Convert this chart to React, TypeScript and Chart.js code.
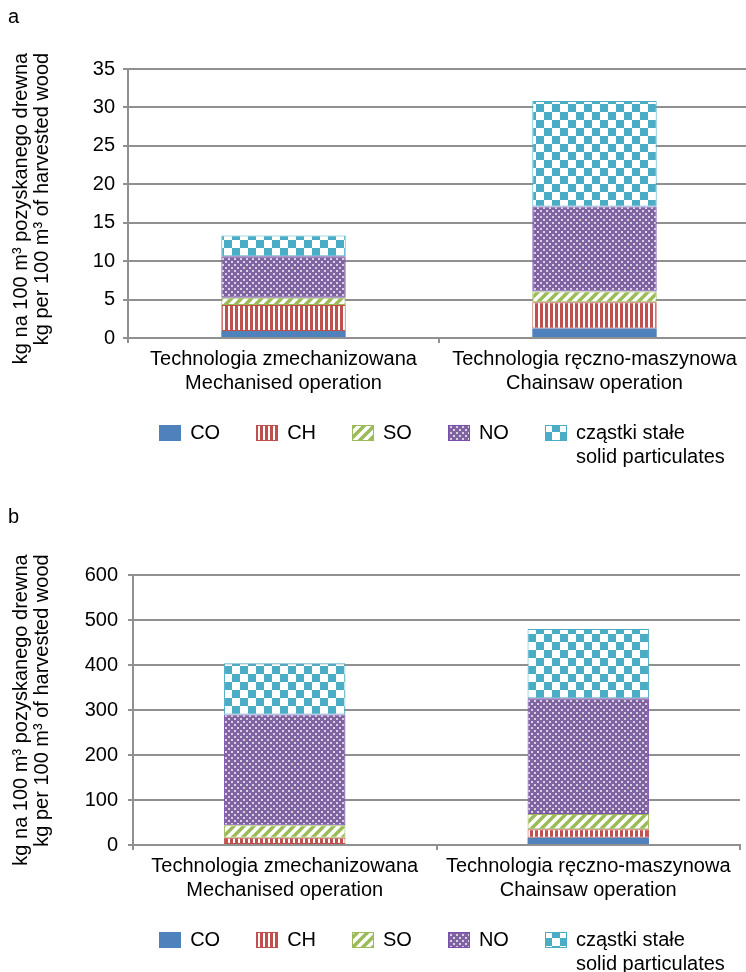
import React, { useEffect, useRef } from 'react';
import { Chart, registerables } from 'chart.js';

Chart.register(...registerables);

// ---------- data ----------
const CATEGORIES = [
  ['Technologia zmechanizowana', 'Mechanised operation'],
  ['Technologia ręczno-maszynowa', 'Chainsaw operation'],
];
const SERIES = ['CO', 'CH', 'SO', 'NO', 'cząstki stałe / solid particulates'];
const LEGEND_LABELS = [['CO'], ['CH'], ['SO'], ['NO'], ['cząstki stałe', 'solid particulates']];
const Y_TITLE = ['kg na 100 m³ pozyskanego drewna', 'kg per 100 m³ of harvested wood'];

// panel a
const A_CO = [0.9, 1.25];
const A_CH = [3.4, 3.4];
const A_SO = [0.95, 1.4];
const A_NO = [5.4, 11.05];
const A_PM = [2.7, 13.75];
const A_Y_MAX = 35;
const A_Y_STEP = 5;

// panel b
const B_CO = [2, 16];
const B_CH = [14, 19];
const B_SO = [28, 34];
const B_NO = [246, 257];
const B_PM = [114, 154];
const B_Y_MAX = 600;
const B_Y_STEP = 100;

// ---------- styles ----------
const FONT = '"Liberation Sans", Arial, Helvetica, sans-serif';
const TEXT = '#000000';
const GRID = '#909090';
const C_CO = '#4F81BD';
const C_CH = '#C0504D';
const C_SO = '#9BBB59';
const C_NO = '#8064A2';
const C_NO_BORDER = '#7a4fb0';
const C_PM = '#4BACC6';

function tile(size: number, draw: (c: CanvasRenderingContext2D) => void) {
  const cv = document.createElement('canvas');
  cv.width = size;
  cv.height = size;
  const c = cv.getContext('2d') as CanvasRenderingContext2D;
  draw(c);
  return cv;
}

function makePatterns(ctx: CanvasRenderingContext2D) {
  const ch = tile(5, (c) => {
    c.fillStyle = '#fff';
    c.fillRect(0, 0, 5, 5);
    c.fillStyle = C_CH;
    c.fillRect(0, 0, 3, 5);
  });
  const so = tile(10, (c) => {
    c.fillStyle = '#fff';
    c.fillRect(0, 0, 10, 10);
    c.strokeStyle = C_SO;
    c.lineWidth = 3.5;
    c.beginPath();
    c.moveTo(-5, 5); c.lineTo(5, -5);
    c.moveTo(0, 10); c.lineTo(10, 0);
    c.moveTo(5, 15); c.lineTo(15, 5);
    c.stroke();
  });
  const no = tile(6, (c) => {
    c.fillStyle = C_NO;
    c.fillRect(0, 0, 6, 6);
    c.fillStyle = 'rgba(255,255,255,0.7)';
    c.fillRect(0, 0, 2, 2);
    c.fillRect(3, 3, 2, 2);
  });
  const pm = tile(16, (c) => {
    c.fillStyle = '#fff';
    c.fillRect(0, 0, 16, 16);
    c.fillStyle = C_PM;
    c.fillRect(0, 0, 8, 8);
    c.fillRect(8, 8, 8, 8);
  });
  return {
    co: C_CO,
    ch: ctx.createPattern(ch, 'repeat'),
    so: ctx.createPattern(so, 'repeat'),
    no: ctx.createPattern(no, 'repeat'),
    pm: ctx.createPattern(pm, 'repeat'),
  };
}

const decorPlugin = {
  id: 'decor',
  afterDraw(chart: any, _args: any, opts: any) {
    const { ctx, chartArea } = chart;
    ctx.save();
    ctx.fillStyle = TEXT;
    ctx.font = `20px ${FONT}`;
    // panel letter
    ctx.textAlign = 'left';
    ctx.textBaseline = 'alphabetic';
    ctx.fillText(opts.panel, 8, opts.panelBaseline);

    // y-axis title (lines end-aligned, block centred on plot)
    const cy = (chartArea.top + chartArea.bottom) / 2 + opts.titleShift;
    const L = Math.max(...Y_TITLE.map((t) => ctx.measureText(t).width));
    Y_TITLE.forEach((t, i) => {
      ctx.save();
      ctx.translate(opts.titleX + i * 21, cy);
      ctx.rotate(-Math.PI / 2);
      ctx.textAlign = 'right';
      ctx.textBaseline = 'middle';
      ctx.fillText(t, L / 2, 0);
      ctx.restore();
    });

    // legend
    const boxW = 22, boxH = 16, gap = 9, spacing = 36, lh = 24;
    const widths = LEGEND_LABELS.map(
      (lines) => boxW + gap + Math.max(...lines.map((l) => ctx.measureText(l).width))
    );
    const total = widths.reduce((a, b) => a + b, 0) + spacing * (widths.length - 1);
    let x = opts.legendCenter - total / 2;
    const y = chartArea.bottom + opts.legendOffset;
    chart.data.datasets.forEach((d: any, i: number) => {
      const bx = Math.round(x);
      const by = Math.round(y - boxH / 2);
      ctx.fillStyle = d.backgroundColor;
      ctx.fillRect(bx, by, boxW, boxH);
      if (d.borderWidth) {
        ctx.strokeStyle = d.borderColor;
        ctx.lineWidth = 1;
        ctx.strokeRect(bx + 0.5, by + 0.5, boxW - 1, boxH - 1);
      }
      ctx.fillStyle = TEXT;
      ctx.textAlign = 'left';
      ctx.textBaseline = 'middle';
      LEGEND_LABELS[i].forEach((l, j) => ctx.fillText(l, x + boxW + gap, y + j * lh));
      x += widths[i] + spacing;
    });
    ctx.restore();
  },
};

type PanelCfg = {
  top: number;
  w: number;
  h: number;
  pad: { top: number; right: number; bottom: number; left: number };
  yWidth: number;
  yPad: number;
  yMax: number;
  yStep: number;
  series: number[][];
  panel: string;
  panelBaseline: number;
  titleShift: number;
};

function Panel({ cfg }: { cfg: PanelCfg }) {
  const ref = useRef<HTMLCanvasElement>(null);
  useEffect(() => {
    const canvas = ref.current as HTMLCanvasElement;
    const ctx = canvas.getContext('2d') as CanvasRenderingContext2D;
    const p = makePatterns(ctx);
    const fills = [p.co, p.ch, p.so, p.no, p.pm];
    const borders = [C_CO, C_CH, C_SO, C_NO_BORDER, C_PM];
    const chart = new Chart(ctx, {
      type: 'bar',
      data: {
        labels: CATEGORIES,
        datasets: SERIES.map((name, i) => ({
          label: name,
          data: cfg.series[i],
          backgroundColor: fills[i] as any,
          borderColor: borders[i],
          borderWidth: i === 0 ? 0 : 1,
          borderSkipped: false,
          barPercentage: 0.4,
          categoryPercentage: 1,
        })),
      },
      options: {
        animation: false,
        responsive: false,
        maintainAspectRatio: false,
        devicePixelRatio: 1,
        layout: { padding: cfg.pad },
        plugins: {
          legend: { display: false },
          tooltip: { enabled: false },
          decor: {
            panel: cfg.panel,
            panelBaseline: cfg.panelBaseline,
            titleX: 21,
            titleShift: cfg.titleShift,
            legendCenter: 442,
            legendOffset: 95,
          },
        } as any,
        scales: {
          x: {
            stacked: true,
            offset: true,
            grid: {
              display: true,
              drawOnChartArea: false,
              drawTicks: true,
              tickLength: 5,
              color: GRID,
              lineWidth: 2,
              offset: true,
            },
            border: { display: true, color: GRID, width: 2 },
            ticks: {
              color: TEXT,
              font: { family: FONT, size: 20, lineHeight: 1.2 },
              padding: 4,
              maxRotation: 0,
              minRotation: 0,
              autoSkip: false,
            },
            afterFit: (s: any) => {
              s.height = 57;
            },
          },
          y: {
            stacked: true,
            min: 0,
            max: cfg.yMax,
            grid: {
              color: GRID,
              lineWidth: 2,
              drawTicks: true,
              tickLength: 5,
            },
            border: { display: true, color: GRID, width: 2 },
            ticks: {
              stepSize: cfg.yStep,
              color: TEXT,
              font: { family: FONT, size: 20 },
              padding: cfg.yPad,
            },
            afterFit: (s: any) => {
              s.width = cfg.yWidth;
            },
          },
        },
      },
      plugins: [decorPlugin],
    });
    return () => chart.destroy();
  }, []);
  return (
    <canvas
      ref={ref}
      width={cfg.w}
      height={cfg.h}
      style={{ position: 'absolute', left: 0, top: cfg.top, width: cfg.w, height: cfg.h }}
    />
  );
}

const PANEL_A: PanelCfg = {
  top: 0,
  w: 752,
  h: 490,
  pad: { top: 69, right: 2, bottom: 490 - 338 - 57, left: 0 },
  yWidth: 128,
  yPad: 8,
  yMax: A_Y_MAX,
  yStep: A_Y_STEP,
  series: [A_CO, A_CH, A_SO, A_NO, A_PM],
  panel: 'a',
  panelBaseline: 23,
  titleShift: 5,
};

const PANEL_B: PanelCfg = {
  top: 490,
  w: 746,
  h: 482,
  pad: { top: 85, right: 6, bottom: 482 - 355 - 57, left: 0 },
  yWidth: 133,
  yPad: 10,
  yMax: B_Y_MAX,
  yStep: B_Y_STEP,
  series: [B_CO, B_CH, B_SO, B_NO, B_PM],
  panel: 'b',
  panelBaseline: 33,
  titleShift: 0,
};

export default function App() {
  return (
    <div
      style={{
        position: 'absolute',
        left: 0,
        top: 0,
        width: 746,
        height: 972,
        overflow: 'hidden',
        background: '#ffffff',
      }}
    >
      <Panel cfg={PANEL_A} />
      <Panel cfg={PANEL_B} />
    </div>
  );
}
